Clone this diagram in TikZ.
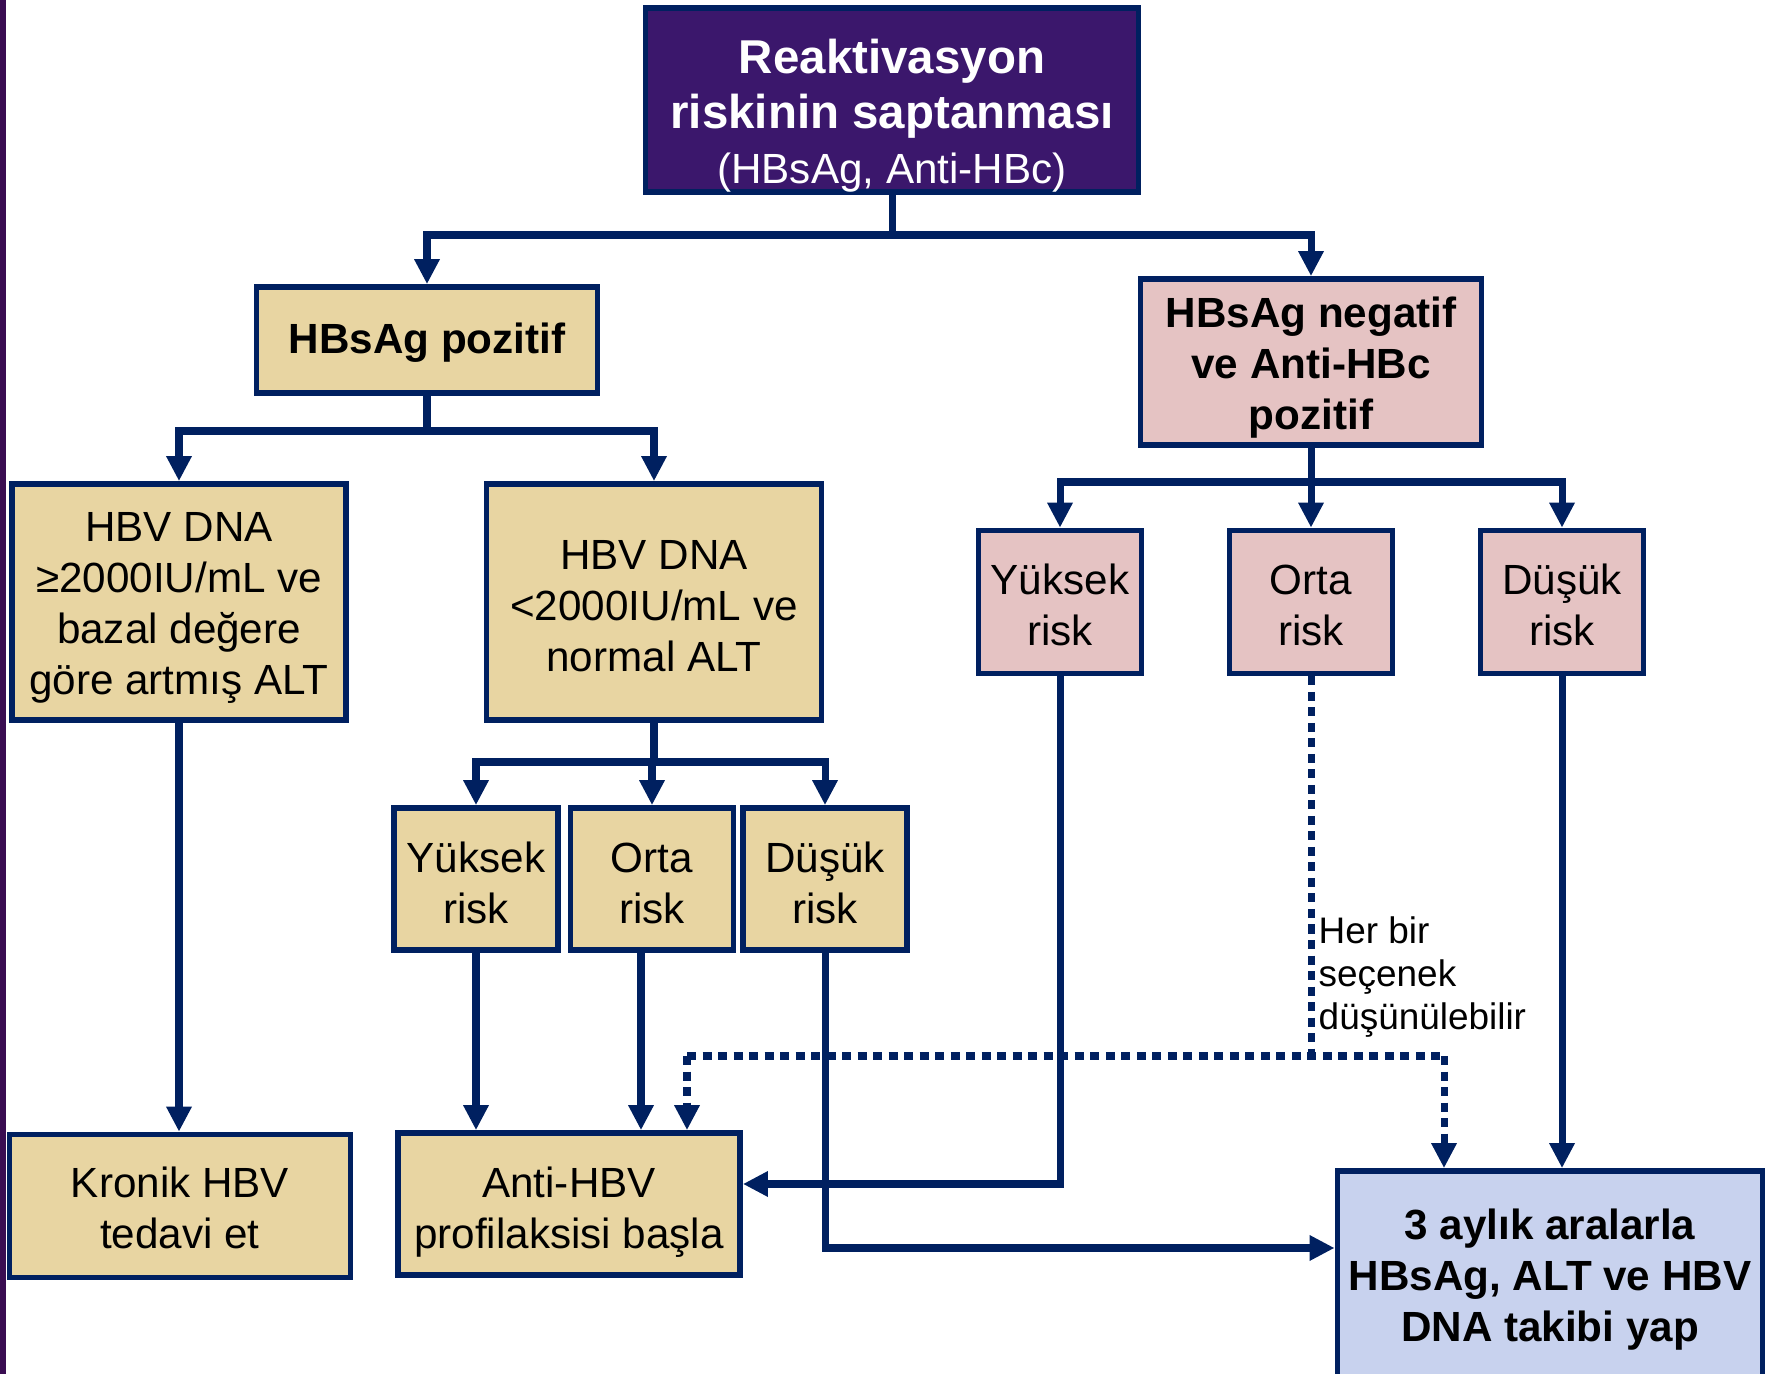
\documentclass[tikz,border=0pt]{standalone}
\usepackage{fontspec}
\setmainfont{Liberation Sans}
\usetikzlibrary{arrows.meta}

\definecolor{navy}{HTML}{002060}
\definecolor{papyrus}{HTML}{E8D5A2}
\definecolor{rosy}{HTML}{E5C3C3}
\definecolor{paleblue}{HTML}{C8D2EE}
\definecolor{deeppurple}{HTML}{3B176C}
\definecolor{stripe}{HTML}{3A0D52}

% strut that pushes the text of a box a bit down
\newcommand{\boxlift}[1]{\rule{0pt}{#1}}

\begin{document}
\begin{tikzpicture}[
	x=0.01cm, y=-0.01cm,
	% Define the styles for the boxes and the links
	box/.style={rectangle, draw=navy, line width=1.6pt, align=center, inner sep=0pt,
		font=\fontsize{12}{14.5}\selectfont},
	tanbox/.style={box, fill=papyrus},
	pinkbox/.style={box, fill=rosy},
	link/.style={draw=navy, line width=2pt},
	arr/.style={link, -{Triangle[width=2.4mm, length=2.5mm]}},
	dotline/.style={link, dash pattern=on 0.9mm off 0.65mm},
	dots/.style={arr, dash pattern=on 0.9mm off 0.65mm}
	]
	
	\useasboundingbox (0,0) rectangle (1777,1374);
	\fill[stripe] (0,0) rectangle (6,1374);
	
	% --- BOXES ---
	% Format: \node (internal_name) at (x,y) [style, size] {text};
	
	\node (root) at (892,100) [box, fill=deeppurple, text=white, minimum width=4.93cm, minimum height=1.81cm,
		font=\fontsize{13.5}{15.6}\selectfont\bfseries]
		{\boxlift{6.6mm}Reaktivasyon\\ riskinin saptanması\\ \fontsize{12}{15.6}\selectfont\mdseries(HBsAg, Anti-HBc)};
	
	\node (pos) at (427,340) [tanbox, minimum width=3.41cm, minimum height=1.06cm, font=\fontsize{12}{14.5}\selectfont\bfseries]
		{\boxlift{10pt}HBsAg pozitif};
	\node (neg) at (1311,362) [pinkbox, minimum width=3.41cm, minimum height=1.66cm, font=\fontsize{12}{14.5}\selectfont\bfseries]
		{\boxlift{12pt}HBsAg negatif\\ ve Anti-HBc\\ pozitif};
	
	\node (high) at (179,602) [tanbox, minimum width=3.34cm, minimum height=2.36cm]
		{\boxlift{11.8pt}HBV DNA\\ ≥2000IU/mL ve\\ bazal değere\\ göre artmış ALT};
	\node (low) at (654,602) [tanbox, minimum width=3.35cm, minimum height=2.36cm]
		{\boxlift{10.5pt}HBV DNA\\ <2000IU/mL ve\\ normal ALT};
	
	\node (ly) at (476,879) [tanbox, minimum width=1.64cm, minimum height=1.42cm] {\boxlift{10.7pt}Yüksek\\ risk};
	\node (lo) at (652,879) [tanbox, minimum width=1.63cm, minimum height=1.42cm] {\boxlift{10.7pt}Orta\\ risk};
	\node (ld) at (825,879) [tanbox, minimum width=1.64cm, minimum height=1.42cm] {\boxlift{10.7pt}Düşük\\ risk};
	
	\node (ry) at (1060,602) [pinkbox, minimum width=1.63cm, minimum height=1.43cm] {\boxlift{10.5pt}Yüksek\\ risk};
	\node (ro) at (1311,602) [pinkbox, minimum width=1.63cm, minimum height=1.43cm] {\boxlift{10.5pt}Orta\\ risk};
	\node (rd) at (1562,602) [pinkbox, minimum width=1.63cm, minimum height=1.43cm] {\boxlift{10.5pt}Düşük\\ risk};
	
	\node (kron) at (180,1206) [tanbox, minimum width=3.41cm, minimum height=1.43cm] {\boxlift{10pt}Kronik HBV\\ tedavi et};
	\node (proph) at (569,1204) [tanbox, minimum width=3.42cm, minimum height=1.42cm] {\boxlift{13.1pt}Anti-HBV\\ profilaksisi başla};
	\node (follow) at (1550,1276) [box, fill=paleblue, minimum width=4.25cm, minimum height=2.1cm,
		font=\fontsize{12}{14.5}\selectfont\bfseries]
		{\boxlift{10.7pt}3 aylık aralarla\\ HBsAg, ALT ve HBV\\ DNA takibi yap};
	
	\node (note) at (1318,916) [anchor=north west, inner sep=0pt, align=left, font=\fontsize{10.5}{12.3}\selectfont]
		{Her bir\\ seçenek\\ düşünülebilir};
	
	% --- LINKS ---
	% Split points of the tree
	\coordinate (s1) at (892,235);
	\coordinate (s2) at (427,431);
	\coordinate (s3) at (654,762);
	\coordinate (s4) at (1311,482);
	\coordinate (dl) at (687,1056);
	\coordinate (dr) at (1444,1056);
	
	\draw[link] (root.south) -- (s1);
	\draw[arr] (s1) -| (pos.north);
	\draw[arr] (s1) -| (neg.north);
	
	\draw[link] (pos.south) -- (s2);
	\draw[arr] (s2) -| (high.north);
	\draw[arr] (s2) -| (low.north);
	
	\draw[link] (low.south) -- (s3);
	\draw[arr] (s3) -| (ly.north);
	\draw[arr] (s3) -| (lo.north);
	\draw[arr] (s3) -| (ld.north);
	
	\draw[link] (neg.south) -- (s4);
	\draw[arr] (s4) -| (ry.north);
	\draw[arr] (s4) -| (ro.north);
	\draw[arr] (s4) -| (rd.north);
	
	\draw[arr] (high.south) -- (high.south |- kron.north);
	\draw[arr] (ly.south) -- (ly.south |- proph.north);
	\draw[arr] ([xshift=-1.1mm]lo.south) -- ([xshift=-1.1mm]lo.south |- proph.north);
	\draw[arr] (ld.south) |- ([yshift=0.28cm]follow.west);
	\draw[arr] (ry.south) |- ([yshift=0.2cm]proph.east);
	\draw[arr] (rd.south) -- (rd.south |- follow.north);
	
	% dotted options
	\draw[dotline] (ro.south) -- (ro.south |- dl);
	\draw[dotline] (dl) -- (dr);
	\draw[dots] (dl) -- (dl |- proph.north);
	\draw[dots] (dr) -- (dr |- follow.north);
	
\end{tikzpicture}
\end{document}
